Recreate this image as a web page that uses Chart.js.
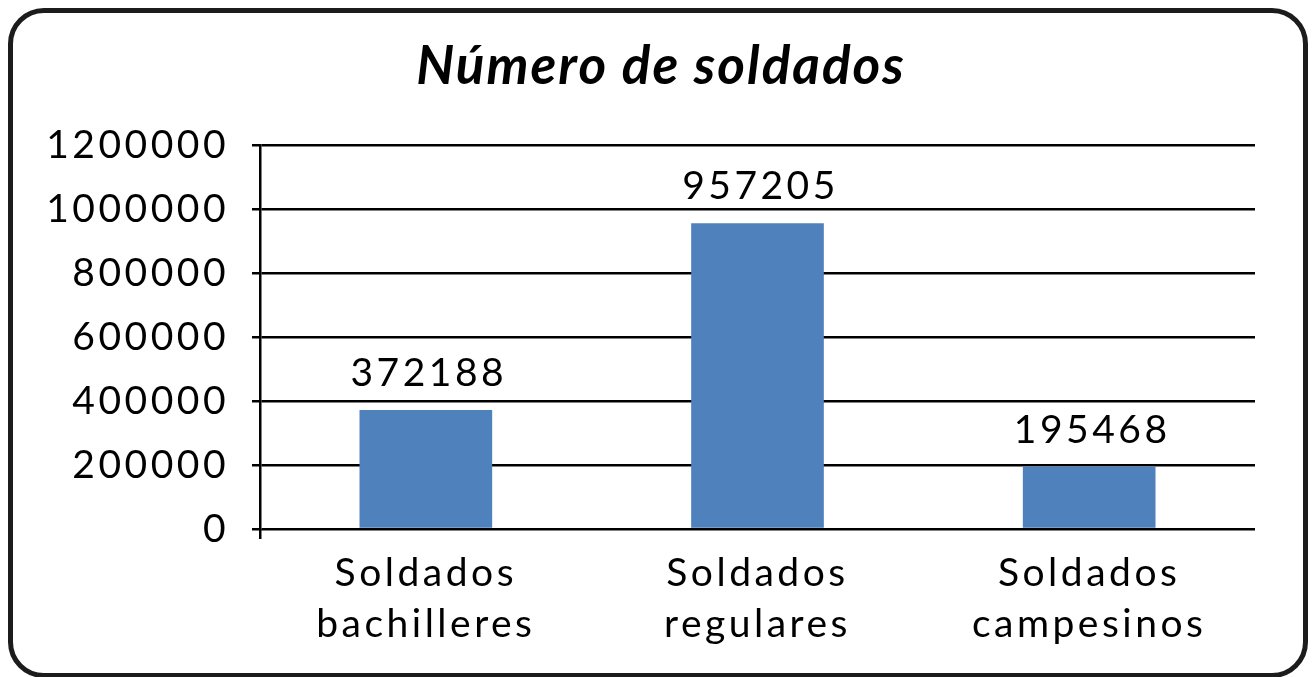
<!DOCTYPE html>
<html><head><meta charset="utf-8">
<script src="https://cdn.jsdelivr.net/npm/chart.js@4/dist/chart.umd.min.js"></script>
<style>
html,body{margin:0;padding:0;background:#fff;width:1313px;height:677px;overflow:hidden;}
#frame{position:absolute;left:8px;top:8px;width:1300px;height:670px;box-sizing:border-box;border:5px solid #1c1c1c;border-radius:36px;background:#fff;}
#c{position:absolute;left:0;top:0;}
</style></head><body>
<div id="frame"></div>
<canvas id="c" width="1313" height="677"></canvas>
<script>
const chartTitle = 'Número de soldados';
const categories = [['Soldados','bachilleres'],['Soldados','regulares'],['Soldados','campesinos']];
const values = [372188, 957205, 195468];
const yTickValues = [0, 200000, 400000, 600000, 800000, 1000000, 1200000];
const yTickLabels = ['0','200000','400000','600000','800000','1000000','1200000'];

const FONT = 'Lato';
const SPACING = '3.5px';
const TITLE_SPACING = '2px';

const spacingPlugin = {
  id: 'spacing',
  beforeUpdate(chart){ chart.ctx.letterSpacing = SPACING; },
  afterLayout(chart){ chart.scales.y.left = 0; },
  beforeDraw(chart){ chart.ctx.letterSpacing = TITLE_SPACING; },
  beforeDatasetsDraw(chart){ chart.ctx.letterSpacing = SPACING; }
};

const valueLabels = {
  id: 'valueLabels',
  afterDatasetsDraw(chart){
    const ctx = chart.ctx;
    const meta = chart.getDatasetMeta(0);
    ctx.save();
    ctx.letterSpacing = SPACING;
    ctx.font = '39px ' + FONT;
    ctx.fillStyle = '#000';
    ctx.textAlign = 'center';
    ctx.textBaseline = 'alphabetic';
    meta.data.forEach((bar, i) => {
      ctx.fillText(String(values[i]), bar.x + 3, bar.y - 24);
    });
    ctx.restore();
  }
};

new Chart(document.getElementById('c'), {
  type: 'bar',
  data: {
    labels: categories,
    datasets: [{
      data: values,
      backgroundColor: '#4F81BD',
      borderWidth: 0,
      barPercentage: 0.4,
      categoryPercentage: 1
    }]
  },
  options: {
    responsive: false,
    animation: false,
    events: [],
    layout: { padding: { left: 67, right: 58, top: 0, bottom: 0 } },
    plugins: {
      legend: { display: false },
      tooltip: { enabled: false },
      title: {
        display: true,
        text: chartTitle,
        color: '#000',
        font: { family: FONT, size: 53, weight: 'bold', style: 'italic', lineHeight: 1.2 },
        padding: { top: 35, bottom: 47 }
      }
    },
    scales: {
      x: {
        afterFit(s){ s.height = 148; },
        grid: {
          display: true,
          drawOnChartArea: false,
          drawTicks: true,
          tickLength: 10,
          lineWidth: 2.5,
          color: (c) => c.index === 0 ? '#000' : 'rgba(0,0,0,0)'
        },
        border: { display: false },
        ticks: {
          z: 1,
          color: '#000',
          padding: 9,
          font: { family: FONT, size: 39, lineHeight: 1.3 }
        }
      },
      y: {
        min: 0,
        max: 1200000,
        afterFit(s){ s.width = 193; },
        afterBuildTicks(s){ s.ticks = yTickValues.map(v => ({ value: v })); },
        grid: { color: '#000', lineWidth: 2.5, tickLength: 8, drawTicks: true },
        border: { display: true, color: '#000', width: 2.5 },
        ticks: {
          z: 1,
          color: '#000',
          padding: 23,
          font: { family: FONT, size: 39 },
          callback: (v) => yTickLabels[yTickValues.indexOf(v)]
        }
      }
    }
  },
  plugins: [spacingPlugin, valueLabels]
});
</script>
</body></html>
